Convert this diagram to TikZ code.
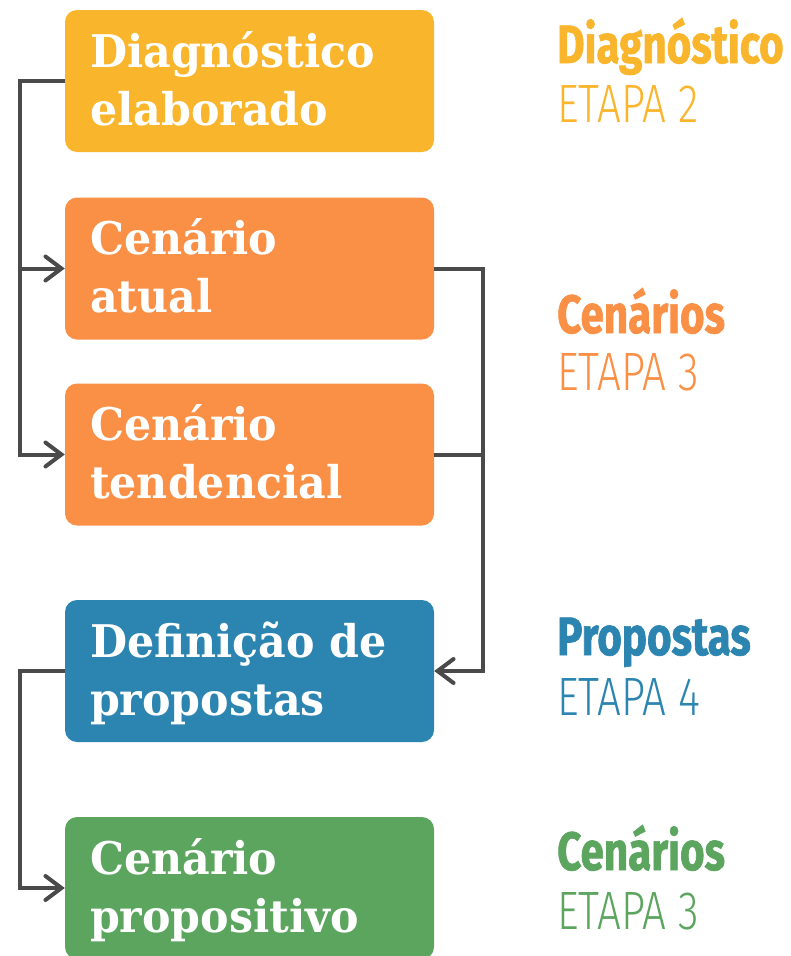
\documentclass[tikz,border=0pt]{standalone}
\usepackage{fontspec}
\usetikzlibrary{arrows.meta}

\newfontfamily\caixafont[FakeStretch=0.95]{DejaVu Serif}
\newfontfamily\etapafont[FakeStretch=0.78,FakeBold=1.2]{Fira Sans}
\newfontfamily\etapalight[FakeStretch=0.78]{Fira Sans Light}

\definecolor{amarelo}{RGB}{249,181,43}
\definecolor{laranja}{RGB}{250,143,70}
\definecolor{azul}{RGB}{44,133,177}
\definecolor{verde}{RGB}{91,165,94}
\definecolor{linha}{RGB}{74,74,74}

\tikzset{
  caixa/.style={rectangle,rounded corners=12pt,minimum width=369pt,minimum height=142pt,
    text width=319pt,align=left,inner xsep=25pt,inner ysep=0pt,text=white,
    font=\caixafont\bfseries\fontsize{45}{58}\selectfont,
    execute at begin node={\rule{0pt}{48pt}},execute at end node=\strut},
  etapa/.style={anchor=base west,inner sep=0pt,font=\etapafont\bfseries\fontsize{54}{54}\selectfont},
  etapanum/.style={anchor=base west,inner sep=0pt,font=\etapalight\fontsize{54}{54}\selectfont},
  liga/.style={draw=linha,line width=4pt},
  seta/.style={liga,-{Straight Barb[length=16pt,width=24pt,line cap=round]}}
}

\begin{document}
\begin{tikzpicture}[x=1pt,y=-1pt]
        \pgfmathsetmacro{\cx}{249.5}
        \pgfmathsetmacro{\lx}{557}
        \useasboundingbox (0,0) rectangle (791,956);

        \node[caixa,fill=amarelo] (diag) at (\cx,81) {Diagnóstico\\elaborado};
        \node[caixa,fill=laranja] (atual) at (\cx,268.5) {Cenário\\atual};
        \node[caixa,fill=laranja] (tend) at (\cx,454.5) {Cenário\\tendencial};
        \node[caixa,fill=azul] (def) at (\cx,671) {Definição de\\propostas};
        \node[caixa,fill=verde] (prop) at (\cx,888) {Cenário\\propositivo};

        \node[etapa,text=amarelo] (tdiag) at (\lx,63) {Diagnóstico};
        \node[etapanum,text=amarelo] (ediag) at (\lx,122) {ETAPA 2};
        \node[etapa,text=laranja] (tcen) at (\lx,333) {Cenários};
        \node[etapanum,text=laranja] (ecen) at (\lx,390) {ETAPA 3};
        \node[etapa,text=azul] (tprop) at (\lx,655) {Propostas};
        \node[etapanum,text=azul] (eprop) at (\lx,715) {ETAPA 4};
        \node[etapa,text=verde] (tcen2) at (\lx,870) {Cenários};
        \node[etapanum,text=verde] (ecen2) at (\lx,929) {ETAPA 3};

        \draw[seta] (diag.west) -- ++(-45,0) |- (atual.west);
        \draw[seta] (diag.west) -- ++(-45,0) |- (tend.west);
        \draw[seta] (atual.east) -- ++(49,0) |- (def.east);
        \draw[liga] (tend.east) -- ++(49,0);
        \draw[seta] (def.west) -- ++(-45,0) |- (prop.west);
      \end{tikzpicture}
\end{document}
